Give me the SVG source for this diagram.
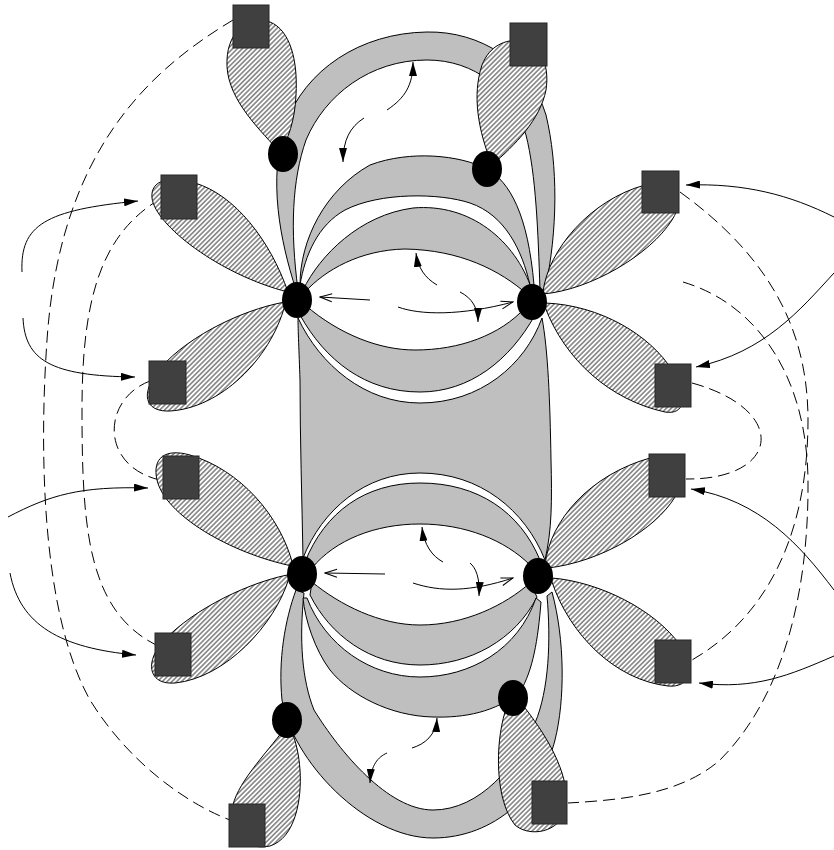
<svg xmlns="http://www.w3.org/2000/svg" width="834" height="850" viewBox="0 0 834 850">
<defs>
<pattern id="hatch" patternUnits="userSpaceOnUse" width="3.4" height="3.4" patternTransform="rotate(45)">
<rect width="3.4" height="3.4" fill="#fff"/>
<line x1="1.7" y1="0" x2="1.7" y2="3.4" stroke="#3a3a3a" stroke-width="1"/>
</pattern>
<marker id="fa" markerUnits="userSpaceOnUse" markerWidth="14" markerHeight="8" refX="14" refY="4" orient="auto" viewBox="0 0 14 8"><path d="M0 0 L14 4 L0 8 Z" fill="#000"/></marker>
<marker id="oa" markerUnits="userSpaceOnUse" markerWidth="14" markerHeight="10" refX="13" refY="5" orient="auto" viewBox="0 0 14 10"><path d="M1 1 L13 5 L1 9" fill="none" stroke="#000" stroke-width="1"/></marker>
</defs>
<style>
.band{fill:#bfbfbf;stroke:#000;stroke-width:1}
.petal{fill:url(#hatch);stroke:#000;stroke-width:1}
.sq{fill:#404040;stroke:#262626;stroke-width:1}
.dot{fill:#000}
.dash{fill:none;stroke:#000;stroke-width:1;stroke-dasharray:12 6}
.arr{fill:none;stroke:#000;stroke-width:1;marker-end:url(#fa)}
.oarr{fill:none;stroke:#000;stroke-width:1;marker-end:url(#oa)}
</style>
<rect width="834" height="850" fill="#fff"/>

<g id="connectors-outer">
<path class="dash" d="M 233 20 C 150 70, 60 150, 47 340 C 38 470, 45 620, 90 700 C 130 765, 190 805, 230 820"/>
<path class="dash" d="M 160 199 C 100 235, 82 300, 82 410 C 82 530, 88 610, 156 645"/>
<path class="dash" d="M 150 381 C 100 400, 100 470, 165 481"/>
<path class="dash" d="M 680 192 C 760 250, 808 320, 808 420 C 808 530, 770 615, 692 660"/>
<path class="dash" d="M 683 282 C 760 305, 807 380, 808 480 C 809 600, 780 700, 720 760 C 680 795, 620 800, 568 803"/>
<path class="dash" d="M 692 383 C 790 410, 780 480, 686 479"/>
<path class="arr" d="M 22 272 C 20 225, 45 210, 138 201"/>
<path class="arr" d="M 23 318 C 25 360, 50 376, 135 377"/>
<path class="arr" d="M 8 517 C 50 495, 80 486, 148 488"/>
<path class="arr" d="M 10 573 C 20 625, 60 648, 136 655"/>
<path class="arr" d="M 834 217 C 790 195, 745 183, 686 185"/>
<path class="arr" d="M 834 273 C 800 310, 765 352, 696 367"/>
<path class="arr" d="M 834 590 C 800 545, 760 500, 691 489"/>
<path class="arr" d="M 834 656 C 790 675, 755 690, 699 683"/>
</g>

<g id="bands">
<path id="arch-top" class="band" d="M 296 290 C 280 240, 268 180, 285 125 C 305 70, 360 33, 427 32 C 480 31, 530 62, 546 115 C 558 165, 558 230, 545 290 L 540 290 C 538 230, 536 175, 526 135 C 512 90, 475 60, 427 60 C 370 60, 325 95, 306 140 C 292 180, 290 230, 298 290 Z"/>
<path id="band-b1" class="band" d="M 300 285 C 300 240, 325 190, 370 165 C 410 150, 460 155, 487 169 C 510 182, 528 215, 534 285 L 530 285 C 522 250, 505 215, 470 203 C 440 193, 380 192, 345 210 C 318 225, 305 255, 300 285 Z"/>
<path id="band-b2" class="band" d="M 303 290 C 320 255, 360 215, 413 208 C 470 203, 515 240, 532 290 L 528 295 C 500 270, 460 250, 405 249 C 360 250, 325 270, 305 292 Z"/>
<path id="band-b3" class="band" d="M 305 305 C 340 335, 380 350, 415 350 C 460 350, 500 335, 525 308 L 535 315 C 510 360, 470 392, 420 392 C 365 392, 325 360, 300 315 Z"/>
<path id="center-block" class="band" d="M 298 318 C 320 365, 365 403, 420 403 C 480 403, 525 365, 542 318 C 548 350, 550 400, 551 460 C 552 500, 552 530, 545 560 C 525 510, 480 473, 420 473 C 365 473, 322 510, 303 558 C 302 500, 300 440, 300 380 C 299 350, 298 330, 298 318 Z"/>
<path id="band-b3b" class="band" d="M 305 562 C 325 512, 365 483, 420 483 C 478 483, 520 512, 540 560 L 530 565 C 505 540, 465 524, 420 524 C 375 524, 335 540, 312 568 Z"/>
<path id="band-b2b" class="band" d="M 312 582 C 340 605, 380 625, 420 625 C 465 625, 505 605, 530 583 L 537 597 C 515 640, 470 665, 420 665 C 370 665, 330 635, 310 595 Z"/>
<path id="arch-bottom" class="band" d="M 296 590 C 285 620, 278 660, 282 700 C 292 760, 365 838, 433 838 C 495 838, 542 792, 555 740 C 565 700, 565 640, 552 592 L 547 596 C 551 640, 549 690, 535 723 C 517 765, 480 810, 433 810 C 388 810, 340 752, 314 710 C 302 680, 299 640, 304 593 Z"/>
<path id="band-b1b" class="band" d="M 307 598 C 325 645, 370 677, 420 677 C 470 677, 518 650, 536 598 L 541 602 C 538 640, 533 670, 520 692 C 495 712, 465 718, 433 717 C 390 716, 350 695, 330 670 C 315 650, 305 620, 303 598 Z"/>
</g>

<g id="connectors-inner">
<path class="arr" d="M 387 110 C 405 98, 413 85, 413 62"/>
<path class="arr" d="M 364 118 C 350 127, 343 140, 343 162"/>
<path class="oarr" d="M 370 300 L 320 297"/>
<path class="oarr" d="M 398 307 C 420 315, 460 316, 513 302"/>
<path class="arr" d="M 437 285 C 425 278, 418 268, 416 253"/>
<path class="arr" d="M 460 292 C 472 298, 478 308, 478 322"/>
<path class="oarr" d="M 385 574 L 325 573"/>
<path class="oarr" d="M 413 583 C 440 592, 470 592, 513 578"/>
<path class="arr" d="M 443 562 C 432 556, 424 545, 422 527"/>
<path class="arr" d="M 470 563 C 476 568, 480 578, 479 596"/>
<path class="arr" d="M 412 748 C 425 744, 436 735, 437 718"/>
<path class="arr" d="M 387 753 C 378 757, 371 765, 370 783"/>
</g>

<g id="port-tl"><path class="petal" d="M 278 150 C 255 125, 225 95, 227 60 C 228 30, 250 15, 270 22 C 290 30, 298 60, 296 95 C 295 120, 288 140, 280 152 Z"/><rect class="sq" x="233" y="5" width="36" height="43"/></g>
<g id="port-tr"><path class="petal" d="M 492 165 C 478 130, 472 95, 482 65 C 490 45, 505 40, 520 40 C 540 42, 550 65, 546 90 C 540 120, 515 145, 492 165 Z"/><rect class="sq" x="510" y="23" width="37" height="43"/></g>
<g id="port-l1"><path class="petal" d="M 288 292 C 270 240, 235 195, 195 183 C 170 175, 150 180, 152 198 C 155 225, 220 275, 288 292 Z"/><rect class="sq" x="161" y="175" width="36" height="44"/></g>
<g id="port-l2"><path class="petal" d="M 285 302 C 240 310, 180 340, 155 375 C 140 398, 148 412, 170 411 C 220 408, 270 360, 285 305 Z"/><rect class="sq" x="149" y="361" width="37" height="43"/></g>
<g id="port-l3"><path class="petal" d="M 293 565 C 280 515, 240 470, 190 455 C 165 448, 152 458, 157 480 C 165 515, 230 553, 292 566 Z"/><rect class="sq" x="163" y="456" width="36" height="43"/></g>
<g id="port-l4"><path class="petal" d="M 287 575 C 240 585, 185 615, 160 645 C 145 665, 150 685, 175 683 C 225 678, 275 625, 289 578 Z"/><rect class="sq" x="155" y="633" width="36" height="43"/></g>
<g id="port-r1"><path class="petal" d="M 543 292 C 548 250, 590 200, 645 185 C 672 178, 688 195, 672 220 C 650 255, 590 290, 543 294 Z"/><rect class="sq" x="642" y="171" width="37" height="42"/></g>
<g id="port-r2"><path class="petal" d="M 545 303 C 600 305, 650 335, 672 370 C 688 398, 685 415, 665 412 C 610 400, 565 360, 545 307 Z"/><rect class="sq" x="655" y="364" width="36" height="43"/></g>
<g id="port-r3"><path class="petal" d="M 545 565 C 550 520, 590 475, 650 458 C 678 452, 690 470, 675 497 C 655 530, 600 562, 548 568 Z"/><rect class="sq" x="649" y="454" width="36" height="43"/></g>
<g id="port-r4"><path class="petal" d="M 552 578 C 600 582, 655 610, 680 645 C 695 670, 690 688, 668 686 C 615 680, 570 635, 552 582 Z"/><rect class="sq" x="655" y="640" width="36" height="43"/></g>
<g id="port-bl"><path class="petal" d="M 285 728 C 265 755, 235 785, 232 810 C 230 840, 250 850, 270 846 C 295 838, 302 800, 300 770 C 299 755, 296 742, 292 732 Z"/><rect class="sq" x="229" y="804" width="36" height="43"/></g>
<g id="port-br"><path class="petal" d="M 505 712 C 495 745, 495 800, 515 825 C 530 838, 560 832, 565 810 C 572 780, 550 740, 525 708 Z"/><rect class="sq" x="532" y="781" width="35" height="43"/></g>

<g id="dot-tl"><ellipse class="dot" cx="283" cy="154" rx="15" ry="18"/></g>
<g id="dot-tr"><ellipse class="dot" cx="487" cy="169" rx="15" ry="18"/></g>
<g id="dot-ul"><ellipse class="dot" cx="297" cy="300" rx="15" ry="18"/></g>
<g id="dot-ur"><ellipse class="dot" cx="532" cy="302" rx="15" ry="18"/></g>
<g id="dot-ll"><ellipse class="dot" cx="302" cy="574" rx="15" ry="18"/></g>
<g id="dot-lr"><ellipse class="dot" cx="538" cy="576" rx="15" ry="18"/></g>
<g id="dot-bl"><ellipse class="dot" cx="287" cy="720" rx="15" ry="18"/></g>
<g id="dot-br"><ellipse class="dot" cx="513" cy="698" rx="15" ry="18"/></g>
</svg>
